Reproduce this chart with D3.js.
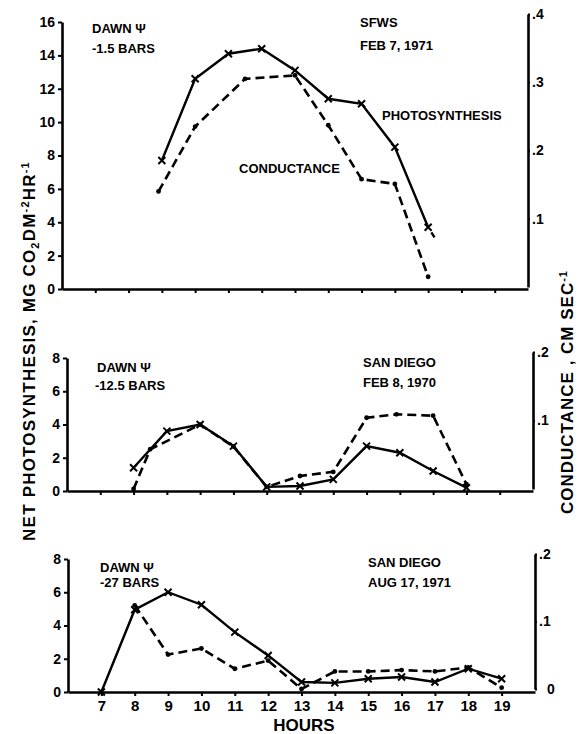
<!DOCTYPE html>
<html><head><meta charset="utf-8">
<script src="https://cdn.jsdelivr.net/npm/d3@7"></script>
<style>
body{margin:0;background:#fff}
svg text{font-family:"Liberation Sans",Arial,sans-serif;font-weight:bold;fill:#000}
</style></head><body>
<svg id="c" width="583" height="734"></svg>
<script>
// ---- data ----
const hourTicks = [7,8,9,10,11,12,13,14,15,16,17,18,19];

// Panel 1: SFWS, Feb 7 1971
const p1PhotoHours = [9,10,11,12,13,14,15,16,17];
const p1Photo      = [7.7,12.6,14.1,14.4,13.1,11.4,11.1,8.5,3.7];
const p1PhotoTailHours = [17,17.3];
const p1PhotoTail      = [3.7,2.75];
const p1CondHours  = [8.9,10,11.5,13,14,15,16,17];
const p1Cond       = [0.14,0.235,0.305,0.31,0.237,0.158,0.151,0.015];
const p1LeftTicks  = [0,2,4,6,8,10,12,14,16];
const p1RightTicks = [0.1,0.2,0.3,0.4];

// Panel 2: San Diego, Feb 8 1970
const p2PhotoHours = [8,9,10,11,12,13,14,15,16,17,18];
const p2Photo      = [1.4,3.6,4.0,2.7,0.25,0.3,0.7,2.7,2.3,1.2,0.2];
const p2CondHours  = [8,8.5,10,11,12,13,14,15,15.9,17,18];
const p2Cond       = [0,0.058,0.094,0.062,0.003,0.019,0.025,0.104,0.109,0.107,0.007];
const p2LeftTicks  = [0,2,4,6,8];
const p2RightTicks = [0.1,0.2];

// Panel 3: San Diego, Aug 17 1971
const p3PhotoHours = [7,8,9,10,11,12,13,14,15,16,17,18,19];
const p3Photo      = [0,4.95,6.0,5.25,3.6,2.2,0.6,0.55,0.8,0.9,0.6,1.4,0.8];
const p3CondHours  = [8,9,10,11,12,13,14,15,16,17,18,19];
const p3Cond       = [0.124,0.051,0.06,0.03,0.042,0.0,0.026,0.026,0.028,0.026,0.032,0.002];
const p3LeftTicks  = [0,2,4,6,8];
const p3RightTicks = [0,0.1,0.2];

// ---- layout ----
const panels = [
  {x0:62,x1:528,yb:289,ytop:22,rb:287,rtop:14,lmax:16,rmax:0.4,
   photoH:p1PhotoHours,photo:p1Photo,condH:p1CondHours,cond:p1Cond,
   tailH:p1PhotoTailHours,tail:p1PhotoTail,
   lt:p1LeftTicks,rt:p1RightTicks,hours:false},
  {x0:67,x1:533,yb:491,ytop:358,rb:489,rtop:352,lmax:8,rmax:0.2,
   photoH:p2PhotoHours,photo:p2Photo,condH:p2CondHours,cond:p2Cond,
   lt:p2LeftTicks,rt:p2RightTicks,hours:false},
  {x0:68,x1:535,yb:692,ytop:559,rb:689,rtop:554,lmax:8,rmax:0.2,
   photoH:p3PhotoHours,photo:p3Photo,condH:p3CondHours,cond:p3Cond,
   lt:p3LeftTicks,rt:p3RightTicks,hours:true}
];

const svg = d3.select('#c');
const rFmt = d => d === 0 ? '0' : d3.format('.1f')(d).replace(/^0/,'');

function styleAxis(g, fs){
  g.attr('font-size', fs).attr('font-family', null);
  g.select('.domain').attr('stroke-width', 2.6);
  g.selectAll('.tick line').attr('stroke-width', 2);
}

panels.forEach(p => {
  const x = d3.scaleLinear([6,20],[p.x0,p.x1]);
  const yL = d3.scaleLinear([0,p.lmax],[p.yb,p.ytop]);
  const yR = d3.scaleLinear([0,p.rmax],[p.rb,p.rtop]);
  const g = svg.append('g');

  const gl = g.append('g').attr('transform',`translate(${p.x0},0)`)
    .call(d3.axisLeft(yL).tickValues(p.lt).tickSize(4).tickSizeOuter(0).tickPadding(3).tickFormat(d3.format('d')));
  styleAxis(gl, 14);

  const gb = g.append('g').attr('transform',`translate(0,${p.yb})`)
    .call(d3.axisBottom(x).tickValues(hourTicks).tickSize(4).tickSizeOuter(0).tickPadding(4)
      .tickFormat(p.hours ? d3.format('d') : () => ''));
  styleAxis(gb, 15);

  const gr = g.append('g').attr('transform',`translate(${p.x1},0)`)
    .call(d3.axisRight(yR).tickValues(p.rt).tickSize(2).tickSizeOuter(0).tickPadding(2).tickFormat(rFmt));
  styleAxis(gr, 14);
  gr.selectAll('.tick').filter(d => d === 0).select('text').attr('x', 12);

  // conductance (dashed, dots)
  const cData = d3.zip(p.condH, p.cond);
  g.append('path').datum(cData)
    .attr('d', d3.line().x(d => x(d[0])).y(d => yR(d[1])))
    .attr('fill','none').attr('stroke','#000').attr('stroke-width',2.6)
    .attr('stroke-dasharray','9,5');
  g.selectAll('.cdot').data(cData).join('circle')
    .attr('cx', d => x(d[0])).attr('cy', d => yR(d[1])).attr('r', 2.4).attr('fill','#000');

  // photosynthesis (solid, x markers)
  const pData = d3.zip(p.photoH, p.photo);
  g.append('path').datum(pData)
    .attr('d', d3.line().x(d => x(d[0])).y(d => yL(d[1])))
    .attr('fill','none').attr('stroke','#000').attr('stroke-width',2.4);
  if (p.tailH) {
    g.append('path').datum(d3.zip(p.tailH, p.tail))
      .attr('d', d3.line().x(d => x(d[0])).y(d => yL(d[1])))
      .attr('fill','none').attr('stroke','#000').attr('stroke-width',2.4)
      .attr('stroke-dasharray','0,6,6,3');
  }
  g.selectAll('.pm').data(pData).join('path')
    .attr('transform', d => `translate(${x(d[0])},${yL(d[1])})`)
    .attr('d','M-3.5,-3.5L3.5,3.5M3.5,-3.5L-3.5,3.5')
    .attr('stroke','#000').attr('stroke-width',2);
});

// ---- annotations ----
const notes = [
  ['DAWN \u03A8', 92, 33], ['-1.5 BARS', 92, 53],
  ['SFWS', 360, 27], ['FEB 7, 1971', 360, 50],
  ['PHOTOSYNTHESIS', 382, 120], ['CONDUCTANCE', 239, 173],
  ['DAWN \u03A8', 97, 372], ['-12.5 BARS', 95, 390],
  ['SAN DIEGO', 363, 367], ['FEB 8, 1970', 363, 387],
  ['DAWN \u03A8', 100, 572], ['-27 BARS', 100, 587],
  ['SAN DIEGO', 368, 567], ['AUG 17, 1971', 368, 587]
];
svg.selectAll('.note').data(notes).join('text')
  .attr('x', d => d[1]).attr('y', d => d[2]).attr('font-size', 13).text(d => d[0]);

svg.append('text').attr('x', 304).attr('y', 731).attr('text-anchor','middle')
  .attr('font-size', 17).text('HOURS');

// left y label
const ly = svg.append('text').attr('transform','translate(29,351) rotate(-90)')
  .attr('text-anchor','middle').attr('dy','0.35em').attr('font-size',17)
  .style('letter-spacing','1.2px');
ly.append('tspan').text('NET PHOTOSYNTHESIS, MG CO');
ly.append('tspan').attr('font-size',11).attr('dy',4).text('2');
ly.append('tspan').attr('dy',-4).text('DM');
ly.append('tspan').attr('font-size',11).attr('dy',-6).text('-2');
ly.append('tspan').attr('dy',6).text('HR');
ly.append('tspan').attr('font-size',11).attr('dy',-6).text('-1');

// right y label
const ry = svg.append('text').attr('transform','translate(567,392) rotate(-90)')
  .attr('text-anchor','middle').attr('dy','0.35em').attr('font-size',17)
  .style('letter-spacing','1px');
ry.append('tspan').text('CONDUCTANCE , CM SEC');
ry.append('tspan').attr('font-size',11).attr('dy',-6).text('-1');
</script>
</body></html>
